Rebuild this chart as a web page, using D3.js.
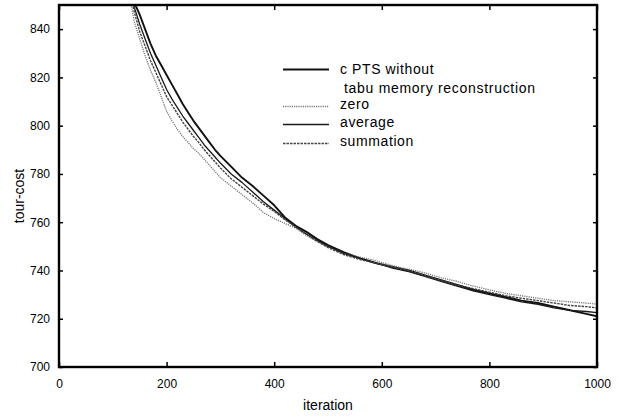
<!DOCTYPE html>
<html><head><meta charset="utf-8">
<script src="https://cdn.jsdelivr.net/npm/d3@7"></script>
<style>
html,body{margin:0;padding:0;background:#fff;}
svg{display:block;font-family:"Liberation Sans",Arial,Helvetica,sans-serif;}
</style></head><body>
<svg id="chart" width="619" height="418"></svg>
<script>
const iterations = [125,130,140,150,160,170,180,190,200,210,220,230,240,250,260,270,280,290,300,320,340,360,380,400,420,440,460,480,500,530,560,590,620,650,680,710,740,770,800,830,860,890,920,950,980,1000];
const cptsValues = [870,864,851,846,840,834,829,825,821,817,813,809,805.5,802,799,796,793,790,787.5,783,778.5,775,771,767,762,758.5,756,753,750.5,747.5,745,743,741.5,740,738,736,734,732,730.5,729,727.5,726.5,725,723.5,722,721];
const zeroValues = [862,855,843,836,829,823,818,812,806,802,798.5,795.5,793,790.5,788.5,786,783.5,781,778.5,775,771.5,768,764,761.5,759.5,757.5,754.5,752,750,747,745.5,744,742,740.5,739,737,735.5,733.5,732,730.5,729.5,728.5,727.5,727,726.5,726];
const averageValues = [867,861,849,842,836,830,825,820,815,811,807.5,804,801,798,795,792,789.5,787,784.5,780,776.5,772.5,768.5,765,761.5,758,755,752.5,750,747,745,743,741,739.5,737.5,735.5,733.5,731.5,730,728.5,727,726,724.5,723.5,723,722.5];
const summationValues = [865,858,847,839,833,827,822,817,812,808.5,805,801.5,798.5,795.5,793,790,787.5,785,782.5,778,774.5,771,767.5,764.5,761,758,755,752,749.5,746.5,744.5,743,741.5,740,738,736,734,732.5,731,729.5,728.5,727.5,726.5,725.5,725,724.5];
const seriesNames = ["c PTS without","zero","average","summation"];
const xTicks = [0,200,400,600,800,1000];
const yTicks = [700,720,740,760,780,800,820,840];

const svg = d3.select("#chart");
const pL=59,pR=597,pT=5,pB=367;
const x = d3.scaleLinear().domain([0,1000]).range([pL,pR]);
const y = d3.scaleLinear().domain([700,850]).range([pB,pT]);

svg.append("defs").append("clipPath").attr("id","clip").append("rect")
  .attr("x",pL).attr("y",pT).attr("width",pR-pL).attr("height",pB-pT);

const series = [
  {name:"c PTS without", values:cptsValues, color:"#111", width:1.9, dash:null},
  {name:"zero", values:zeroValues, color:"#777", width:1.3, dash:"1.2,1"},
  {name:"average", values:averageValues, color:"#1a1a1a", width:1.3, dash:null},
  {name:"summation", values:summationValues, color:"#444", width:1.4, dash:"2.5,1"}
];

const line = d3.line().x((d,i)=>x(iterations[i])).y(d=>y(d)).curve(d3.curveLinear);
const g = svg.append("g").attr("clip-path","url(#clip)");
series.forEach(s=>{
  g.append("path").datum(s.values).attr("d",line).attr("fill","none")
   .attr("stroke",s.color).attr("stroke-width",s.width)
   .attr("stroke-dasharray",s.dash).attr("stroke-linejoin","round");
});

const tickFont = g2 => g2.selectAll("text").attr("font-size","12px").attr("fill","#000");
const xb = svg.append("g").attr("transform",`translate(0,${pB})`)
  .call(d3.axisBottom(x).tickValues(xTicks).tickSizeInner(-5).tickSizeOuter(0).tickPadding(12).tickFormat(d3.format("d")));
xb.select(".domain").remove(); tickFont(xb); xb.selectAll("line").attr("stroke","#000").attr("stroke-width",1.5);
const xt = svg.append("g").attr("transform",`translate(0,${pT})`)
  .call(d3.axisTop(x).tickValues(xTicks).tickSizeInner(-5).tickSizeOuter(0).tickFormat(""));
xt.select(".domain").remove(); xt.selectAll("line").attr("stroke","#000").attr("stroke-width",1.5);
const yl = svg.append("g").attr("transform",`translate(${pL},0)`)
  .call(d3.axisLeft(y).tickValues(yTicks).tickSizeInner(-4).tickSizeOuter(0).tickPadding(9).tickFormat(d3.format("d")));
yl.select(".domain").remove(); tickFont(yl); yl.selectAll("line").attr("stroke","#000").attr("stroke-width",1.5);
const yr = svg.append("g").attr("transform",`translate(${pR},0)`)
  .call(d3.axisRight(y).tickValues(yTicks).tickSizeInner(-4).tickSizeOuter(0).tickFormat(""));
yr.select(".domain").remove(); yr.selectAll("line").attr("stroke","#000").attr("stroke-width",1.5);

svg.append("rect").attr("x",pL).attr("y",pT).attr("width",pR-pL).attr("height",pB-pT)
  .attr("fill","none").attr("stroke","#000").attr("stroke-width",2.4);

svg.append("text").attr("x",(pL+pR)/2).attr("y",410).attr("text-anchor","middle")
  .attr("font-size","14px").attr("fill","#000").text("iteration");
svg.append("text").attr("transform","translate(24,196) rotate(-90)").attr("text-anchor","middle")
  .attr("font-size","14px").attr("fill","#000").text("tour-cost");

const legendLineY = [69.5,106.5,124.5,143.5];
const legendTextY = [73.5,108.5,127,146];
const lg = svg.append("g");
series.forEach((s,i)=>{
  lg.append("line").attr("x1",283).attr("x2",329).attr("y1",legendLineY[i]).attr("y2",legendLineY[i])
    .attr("stroke",s.color).attr("stroke-width",s.width).attr("stroke-dasharray",s.dash);
  lg.append("text").attr("x",340).attr("y",legendTextY[i]).attr("font-size","14px")
    .attr("letter-spacing","0.6px").attr("fill","#000").text(seriesNames[i]);
});
lg.append("text").attr("x",344).attr("y",92.5).attr("font-size","14px")
  .attr("letter-spacing","0.7px").attr("fill","#000").text("tabu memory reconstruction");
</script></body></html>
